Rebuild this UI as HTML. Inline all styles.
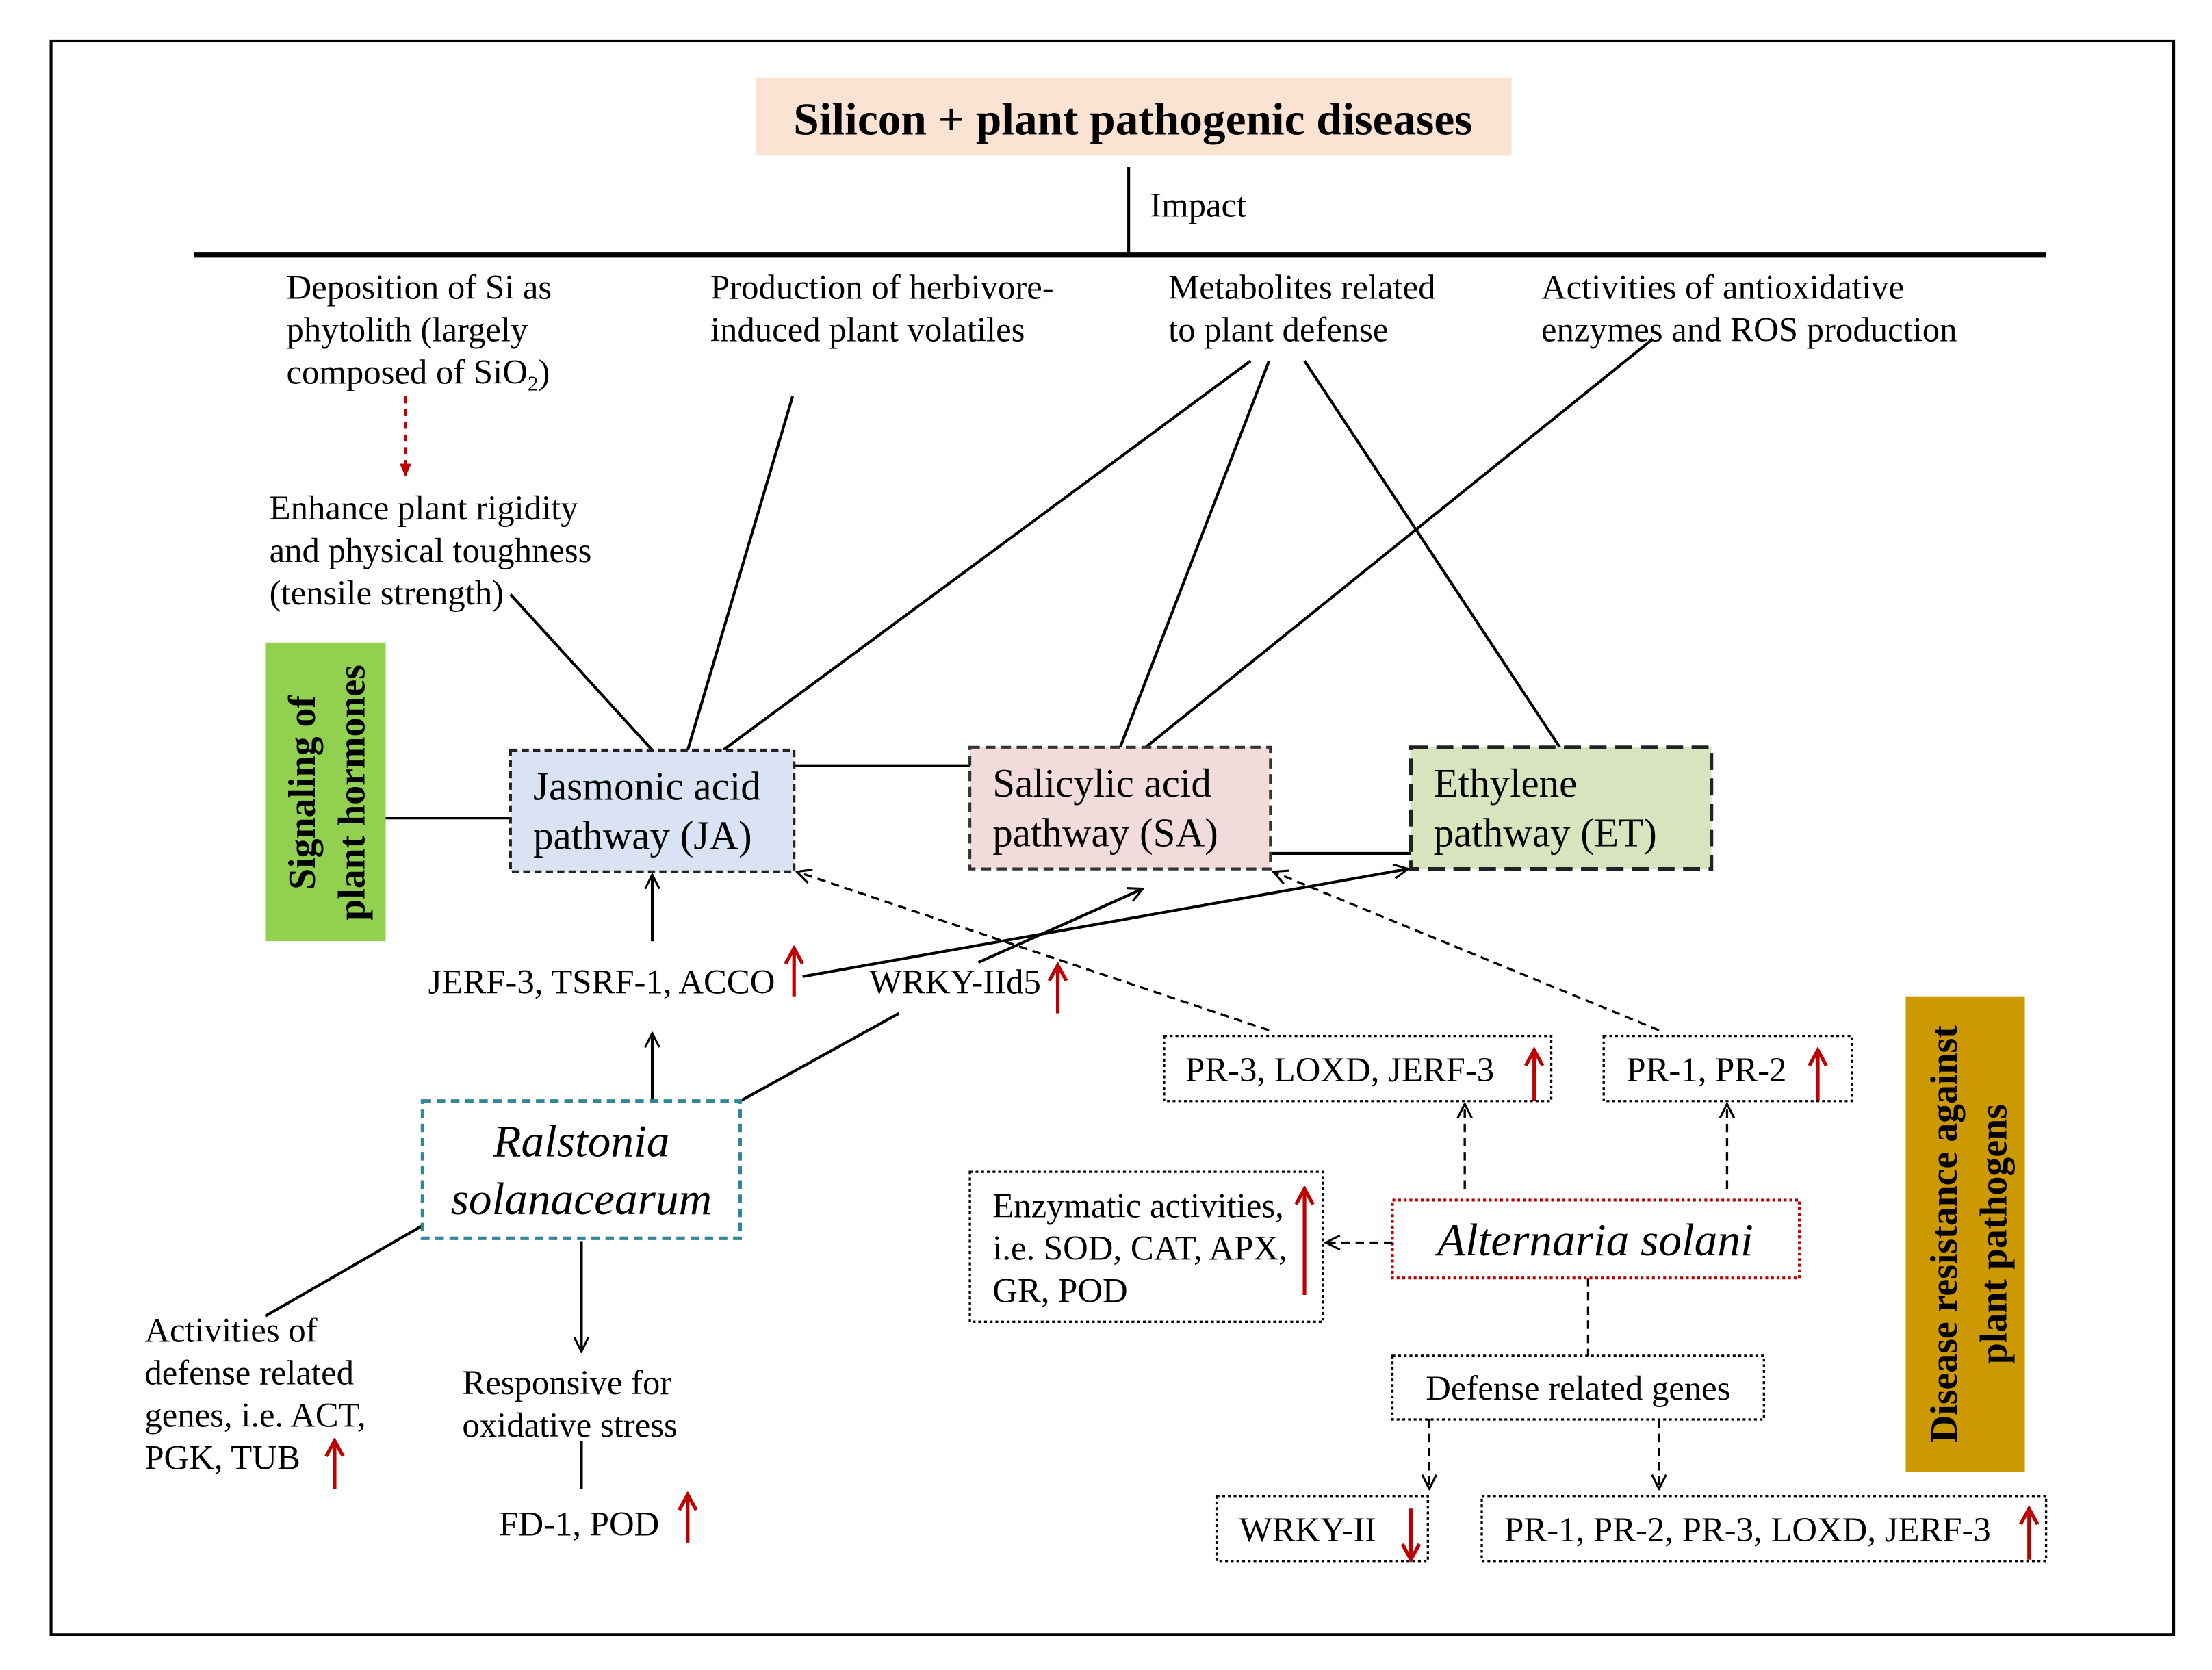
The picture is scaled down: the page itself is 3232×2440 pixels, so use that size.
<!DOCTYPE html>
<html><head><meta charset="utf-8"><style>html,body{margin:0;padding:0;background:#fff}svg{display:block}svg text{font-family:"Liberation Serif","DejaVu Serif",serif}</style></head>
<body>
<svg width="3232" height="2440" viewBox="0 0 1560 1180" preserveAspectRatio="none" xmlns="http://www.w3.org/2000/svg" style="font-family:'Liberation Serif',serif" font-size="24.5" fill="#000">
<defs>
<marker id="a" viewBox="0 0 12 12" refX="11" refY="6" markerWidth="12" markerHeight="12" markerUnits="userSpaceOnUse" orient="auto"><path d="M1,1 L11,6 L1,11" fill="none" stroke="#000" stroke-width="1.5"/></marker>
<marker id="r" viewBox="0 0 12 12" refX="10" refY="6" markerWidth="10" markerHeight="10" markerUnits="userSpaceOnUse" orient="auto"><path d="M0,1 L11,6 L0,11 Z" fill="#c00000"/></marker>
<marker id="ru" viewBox="0 0 14 14" refX="12" refY="7" markerWidth="14" markerHeight="14" markerUnits="userSpaceOnUse" orient="auto"><path d="M1,1 L12,7 L1,13" fill="none" stroke="#c00000" stroke-width="2.5"/></marker>
</defs>
<rect x="36" y="29" width="1497" height="1126" fill="none" stroke="#000" stroke-width="2"/>
<rect x="533" y="55" width="533" height="55" fill="#fbe3d4"/>
<text x="799" y="95" text-anchor="middle" font-weight="bold" font-size="32.5">Silicon + plant pathogenic diseases</text>
<line x1="796" y1="118" x2="796" y2="180" stroke="#000" stroke-width="2"/>
<text x="811" y="153">Impact</text>
<line x1="137" y1="180" x2="1443" y2="180" stroke="#000" stroke-width="4"/>
<text x="202" y="211">Deposition of Si as</text>
<text x="202" y="241">phytolith (largely</text>
<text x="202" y="271">composed of SiO<tspan font-size="15" dy="5">2</tspan><tspan dy="-5">)</tspan></text>
<text x="501" y="211">Production of herbivore-</text>
<text x="501" y="241">induced plant volatiles</text>
<text x="824" y="211">Metabolites related</text>
<text x="824" y="241">to plant defense</text>
<text x="1087" y="211">Activities of antioxidative</text>
<text x="1087" y="241">enzymes and ROS production</text>
<line x1="286" y1="280" x2="286" y2="336" stroke="#c00000" stroke-width="2" stroke-dasharray="5,4" marker-end="url(#r)"/>
<text x="190" y="367">Enhance plant rigidity</text>
<text x="190" y="397">and physical toughness</text>
<text x="190" y="427">(tensile strength)</text>
<g stroke="#000" stroke-width="2">
<line x1="360" y1="420" x2="460" y2="530"/>
<line x1="559" y1="280" x2="485" y2="530"/>
<line x1="882" y1="255" x2="510" y2="530"/>
<line x1="895" y1="255" x2="790" y2="528"/>
<line x1="920" y1="255" x2="1100" y2="528"/>
<line x1="1165" y1="240" x2="808" y2="528"/>
<line x1="272" y1="578" x2="360" y2="578"/>
<line x1="560" y1="541" x2="684" y2="541"/>
<line x1="896" y1="603" x2="995" y2="603"/>
</g>
<rect x="187" y="454" width="85" height="211" fill="#92d050"/>
<text transform="translate(222,560) rotate(-90)" text-anchor="middle" font-weight="bold" font-size="27">Signaling of</text>
<text transform="translate(257,560) rotate(-90)" text-anchor="middle" font-weight="bold" font-size="27">plant hormones</text>
<rect x="360" y="530" width="200" height="86" fill="#dae3f3" stroke="#222" stroke-width="2" stroke-dasharray="5,3"/>
<text x="376" y="565" font-size="28.5">Jasmonic acid</text>
<text x="376" y="600" font-size="28.5">pathway (JA)</text>
<rect x="684" y="528" width="212" height="86" fill="#f2dcdb" stroke="#333" stroke-width="2" stroke-dasharray="7,4"/>
<text x="700" y="563" font-size="28.5">Salicylic acid</text>
<text x="700" y="598" font-size="28.5">pathway (SA)</text>
<rect x="995" y="528" width="212" height="86" fill="#d7e4bd" stroke="#222" stroke-width="2.5" stroke-dasharray="12,6"/>
<text x="1011" y="563" font-size="28.5">Ethylene</text>
<text x="1011" y="598" font-size="28.5">pathway (ET)</text>
<g stroke="#000" stroke-width="2" fill="none">
<line x1="460" y1="665" x2="460" y2="618" marker-end="url(#a)"/>
<line x1="460" y1="778" x2="460" y2="730" marker-end="url(#a)"/>
<line x1="566" y1="690" x2="993" y2="614" marker-end="url(#a)"/>
<line x1="690" y1="680" x2="806" y2="628" marker-end="url(#a)"/>
<line x1="522" y1="778" x2="634" y2="716"/>
<line x1="895" y1="728" x2="562" y2="616" stroke-width="1.6" stroke-dasharray="6,4" marker-end="url(#a)"/>
<line x1="1170" y1="728" x2="898" y2="616" stroke-width="1.6" stroke-dasharray="6,4" marker-end="url(#a)"/>
<line x1="298" y1="866" x2="187" y2="930"/>
<line x1="410" y1="877" x2="410" y2="955" marker-end="url(#a)"/>
<line x1="410" y1="1018" x2="410" y2="1052"/>
</g>
<text x="302" y="702">JERF-3, TSRF-1, ACCO</text>
<text x="613" y="702">WRKY-IId5</text>
<g stroke="#c00000" stroke-width="2.5">
<line x1="560" y1="704" x2="560" y2="670" marker-end="url(#ru)"/>
<line x1="746" y1="716" x2="746" y2="682" marker-end="url(#ru)"/>
<line x1="1082" y1="778" x2="1082" y2="742" marker-end="url(#ru)"/>
<line x1="1282" y1="778" x2="1282" y2="742" marker-end="url(#ru)"/>
<line x1="920" y1="915" x2="920" y2="840" marker-end="url(#ru)"/>
<line x1="236" y1="1052" x2="236" y2="1018" marker-end="url(#ru)"/>
<line x1="485" y1="1090" x2="485" y2="1056" marker-end="url(#ru)"/>
<line x1="995" y1="1066" x2="995" y2="1102" marker-end="url(#ru)"/>
<line x1="1431" y1="1102" x2="1431" y2="1066" marker-end="url(#ru)"/>
</g>
<rect x="821" y="732" width="273" height="46" fill="none" stroke="#000" stroke-width="1.6" stroke-dasharray="2,2"/>
<text x="836" y="764">PR-3, LOXD, JERF-3</text>
<rect x="1131" y="732" width="175" height="46" fill="none" stroke="#000" stroke-width="1.6" stroke-dasharray="2,2"/>
<text x="1147" y="764">PR-1, PR-2</text>
<rect x="298" y="778" width="224" height="97" fill="none" stroke="#31859c" stroke-width="2.5" stroke-dasharray="6,4"/>
<text x="410" y="817" text-anchor="middle" font-style="italic" font-size="32.5">Ralstonia</text>
<text x="410" y="858" text-anchor="middle" font-style="italic" font-size="32.5">solanacearum</text>
<rect x="684" y="828" width="249" height="106" fill="none" stroke="#000" stroke-width="1.6" stroke-dasharray="2,2"/>
<text x="700" y="860">Enzymatic activities,</text>
<text x="700" y="890">i.e. SOD, CAT, APX,</text>
<text x="700" y="920">GR, POD</text>
<rect x="982" y="848" width="287" height="55" fill="none" stroke="#c00000" stroke-width="2" stroke-dasharray="2,2"/>
<text x="1125" y="887" text-anchor="middle" font-style="italic" font-size="32.5">Alternaria solani</text>
<g stroke="#000" stroke-width="1.6" stroke-dasharray="6,4" fill="none">
<line x1="1033" y1="840" x2="1033" y2="780" marker-end="url(#a)"/>
<line x1="1218" y1="840" x2="1218" y2="780" marker-end="url(#a)"/>
<line x1="982" y1="878" x2="935" y2="878" marker-end="url(#a)"/>
<line x1="1120" y1="903" x2="1120" y2="958"/>
<line x1="1008" y1="1003" x2="1008" y2="1052" marker-end="url(#a)"/>
<line x1="1170" y1="1003" x2="1170" y2="1052" marker-end="url(#a)"/>
</g>
<rect x="982" y="958" width="262" height="45" fill="none" stroke="#000" stroke-width="1.6" stroke-dasharray="2,2"/>
<text x="1113" y="989" text-anchor="middle">Defense related genes</text>
<rect x="858" y="1057" width="149" height="46" fill="none" stroke="#000" stroke-width="1.6" stroke-dasharray="2,2"/>
<text x="874" y="1089">WRKY-II</text>
<rect x="1045" y="1057" width="398" height="46" fill="none" stroke="#000" stroke-width="1.6" stroke-dasharray="2,2"/>
<text x="1061" y="1089">PR-1, PR-2, PR-3, LOXD, JERF-3</text>
<rect x="1344" y="704" width="84" height="336" fill="#cc9900"/>
<text transform="translate(1380,872) rotate(-90)" text-anchor="middle" font-weight="bold" font-size="27">Disease resistance against</text>
<text transform="translate(1415,872) rotate(-90)" text-anchor="middle" font-weight="bold" font-size="27">plant pathogens</text>
<text x="102" y="948">Activities of</text>
<text x="102" y="978">defense related</text>
<text x="102" y="1008">genes, i.e. ACT,</text>
<text x="102" y="1038">PGK, TUB</text>
<text x="326" y="985">Responsive for</text>
<text x="326" y="1015">oxidative stress</text>
<text x="352" y="1085">FD-1, POD</text>
</svg>
</body></html>
